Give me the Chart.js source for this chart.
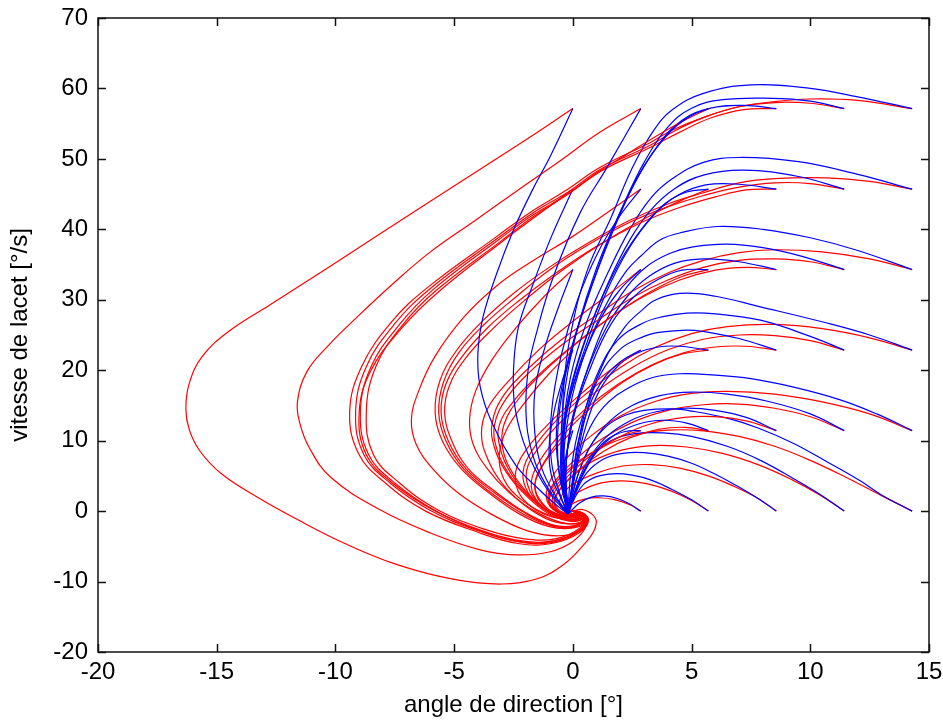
<!DOCTYPE html>
<html>
<head>
<meta charset="utf-8">
<script src="https://cdn.jsdelivr.net/npm/chart.js@4"></script>
<style>
  html, body { margin: 0; background: #fff; }
  canvas { display: block; }
</style>
</head>
<body>
<canvas id="portrait" width="943" height="722"></canvas>
<script>
// axis ticks
const xTicks = [-20, -15, -10, -5, 0, 5, 10, 15];
const yTicks = [-20, -10, 0, 10, 20, 30, 40, 50, 60, 70];

// trajectories, [angle, yaw rate] pairs; name = start angle _ start yaw rate
// blue model
const b0_57 = [[0,57.14],[-0.96,50.3],[-1.7,45.6],[-2.5,39.9],[-3.2,33.8],[-3.78,27.6],[-4.0,22.4],[-3.9,17.6],[-3.4,12.5],[-2.4,6.5],[-1.4,3.0],[-0.6,0.6],[-0.2,-0.4]];
const b3_57 = [[2.86,57.14],[1.44,48.8],[0.3,42.3],[-0.83,33.2],[-1.5,25.7],[-1.9,19.6],[-1.95,12.5],[-1.6,7],[-1.0,3],[-0.4,0.5],[-0.2,-0.4]];
const b6_57 = [[5.71,57.14],[4.9,56.0],[4.0,53.5],[3.0,49],[2.0,42.5],[1.0,34],[0.1,25],[-0.5,17],[-0.7,10],[-0.5,4],[-0.2,-0.4]];
const b9_57 = [[8.57,57.14],[7.2,57.6],[5.8,57.2],[4.6,55.5],[3.6,52],[2.6,46.5],[1.6,39],[0.6,30],[-0.2,21],[-0.6,13],[-0.6,6],[-0.2,-0.4]];
const b11_57 = [[11.43,57.14],[10,58.2],[8.4,58.6],[6.3,58.4],[5.0,57.2],[4.0,54.5],[3.0,49.5],[2.0,42.5],[1.0,34.5],[0.2,26],[-0.3,18],[-0.5,10],[-0.4,4],[-0.2,-0.4]];
const b14_57 = [[14.29,57.14],[12,58.8],[10,60.0],[7.5,60.5],[5.5,59.3],[4.2,57],[3.4,54],[2.5,48.7],[1.6,41.6],[0.6,34.1],[-0.1,25],[-0.4,17],[-0.4,10],[-0.3,4],[-0.2,-0.4]];

const b0_46 = [[0,45.71],[-0.9,39],[-1.7,32],[-2.3,26],[-2.5,20],[-2.45,15],[-2.1,10],[-1.6,6],[-0.9,2.2],[-0.2,-0.4]];
const b3_46 = [[2.86,45.71],[2.0,42],[1.1,37],[0.2,30],[-0.5,22],[-0.9,14],[-0.9,7],[-0.5,2],[-0.2,-0.4]];
const b6_46 = [[5.71,45.71],[4.8,45.3],[3.9,43.7],[3.0,40.5],[2.0,35.5],[1.0,28.5],[0.1,20],[-0.4,12],[-0.5,5],[-0.2,-0.4]];
const b9_46 = [[8.57,45.71],[7,46.4],[5.6,46.3],[4.4,44.8],[3.4,42],[2.4,37.5],[1.4,31],[0.5,23],[-0.2,15],[-0.4,8],[-0.3,3],[-0.2,-0.4]];
const b11_46 = [[11.43,45.71],[9.5,47.5],[7.2,48.4],[5.5,47.7],[4.3,45.8],[3.3,42.8],[2.4,38.5],[1.5,32.5],[0.6,25],[-0.1,17],[-0.4,10],[-0.3,4],[-0.2,-0.4]];
const b14_46 = [[14.29,45.71],[12,47.8],[9.5,49.6],[7,50.2],[5.5,49.5],[4.2,47.2],[3.3,44.5],[2.4,40],[1.5,34],[0.6,27],[-0.1,19],[-0.4,11],[-0.4,5],[-0.2,-0.4]];

const b0_34 = [[0,34.29],[-0.6,29],[-1.2,23],[-1.6,17],[-1.6,11],[-1.3,6],[-0.7,2],[-0.2,-0.4]];
const b3_34 = [[2.86,34.29],[2.0,31.5],[1.2,27.5],[0.4,21.5],[-0.2,15],[-0.5,8],[-0.4,3],[-0.2,-0.4]];
const b6_34 = [[5.71,34.29],[4.6,34.2],[3.6,32.9],[2.6,30.5],[1.6,26.5],[0.7,20],[0,13],[-0.3,6],[-0.2,-0.4]];
const b9_34 = [[8.57,34.29],[7,35.4],[5.5,35.8],[4.3,35.2],[3.2,33.3],[2.3,30.5],[1.4,26],[0.5,19],[-0.1,12],[-0.3,5],[-0.2,-0.4]];
const b11_34 = [[11.43,34.29],[9.5,36.3],[8,37.4],[6.5,37.9],[5.06,37.5],[4.1,36.6],[3.1,34.7],[2.27,31.8],[1.4,27],[0.6,20],[0,13],[-0.3,6],[-0.2,-0.4]];
const b14_34 = [[14.29,34.29],[12,37],[10,38.8],[8,40],[6.1,40.4],[4.65,39.6],[3.67,38.5],[2.83,36.1],[2.28,34.2],[1.57,30.4],[0.8,25],[0.1,18],[-0.3,11],[-0.4,5],[-0.2,-0.4]];

const b0_23 = [[0,22.86],[-0.4,19],[-0.8,14],[-1.0,9],[-0.9,5],[-0.5,1.8],[-0.2,-0.4]];
const b3_23 = [[2.86,22.86],[2.0,21.2],[1.3,18.8],[0.7,15],[0.2,9.5],[0,4.5],[-0.2,-0.4]];
const b6_23 = [[5.71,22.86],[4.5,23.4],[3.6,23.3],[2.7,22.4],[1.9,20.6],[1.1,17],[0.5,11.5],[0.1,5.5],[-0.2,-0.4]];
const b9_23 = [[8.57,22.86],[7,24.5],[5.5,25.5],[4.8,25.7],[3.7,25.4],[3,24.8],[2,23],[1.1,19],[0.5,13],[0.1,6],[-0.2,-0.4]];
const b11_23 = [[11.43,22.86],[10,24.8],[7.9,27.1],[6,28],[4.8,28.1],[3.8,27.6],[2.96,26.7],[1.9,24.3],[1.1,20],[0.5,14],[0.1,7],[-0.2,-0.4]];
const b14_23 = [[14.29,22.86],[12.5,25],[10.7,26.7],[7.9,29],[6,30.5],[4.5,30.9],[3.5,30],[2.9,28.5],[2.2,26.2],[1.5,22.5],[0.8,17],[0.2,11],[-0.1,5],[-0.2,-0.4]];

const b0_11 = [[0,11.43],[-0.25,8.5],[-0.4,5.5],[-0.4,3],[-0.3,1],[-0.2,-0.4]];
const b3_11 = [[2.86,11.43],[2.2,11.3],[1.5,10.3],[0.9,8.2],[0.4,5.2],[0.05,2.2],[-0.2,-0.4]];
const b6_11 = [[5.71,11.43],[4.8,12.5],[3.8,12.9],[2.8,12.4],[1.8,10.9],[1,8.4],[0.4,5],[0,2],[-0.2,-0.4]];
const b9_11 = [[8.57,11.43],[7.3,13.3],[6,14.3],[4.7,14.6],[3.5,14.1],[2.4,12.8],[1.4,10.5],[0.6,7],[0.1,3],[-0.2,-0.4]];
const b11_11 = [[11.43,11.43],[10,13.8],[8.2,15.6],[6.5,16.6],[5,16.9],[3.67,16.4],[2.5,15],[1.5,12.6],[0.7,9],[0.15,4.5],[-0.2,-0.4]];
const b14_11 = [[14.29,11.43],[12.8,13.8],[11.26,15.8],[9.3,17.6],[7.5,18.8],[6,19.3],[4.5,19.5],[3.4,19],[2.3,17.4],[1.3,14.8],[0.6,11],[0.15,6],[-0.2,-0.4]];

const b3_0 = [[2.86,0],[2.4,1.0],[1.9,1.75],[1.3,2.15],[0.75,1.95],[0.3,1.2],[0,0.3],[-0.2,-0.4]];
const b6_0 = [[5.71,0],[5,1.6],[4.1,3.2],[3.3,4.4],[2.5,5.1],[1.7,5.3],[1,4.9],[0.45,3.8],[0.1,2],[-0.2,-0.4]];
const b9_0 = [[8.57,0],[7.8,1.8],[6.9,3.6],[5.9,5.4],[5,6.8],[4,7.8],[3,8.3],[2.1,8.2],[1.3,7.4],[0.6,5.5],[0.15,2.8],[-0.2,-0.4]];
const b11_0 = [[11.43,0],[10.4,2.4],[9.3,4.6],[7.9,7.2],[6.5,9.2],[5,10.6],[3.8,11.1],[2.6,11],[1.6,10],[0.9,8],[0.35,4.8],[0,1.5],[-0.2,-0.4]];
const b14_0 = [[14.29,0],[13,2.3],[12.1,4.3],[10.7,7],[9.3,9.6],[7.8,11.8],[6.5,13.2],[5,14.2],[4.2,14.5],[3,14.3],[2.2,13.6],[1.4,12],[0.7,9],[0.2,5],[-0.2,-0.4]];

// red model
const r0_57 = [[0,57.14],[-2.3,52],[-6,44],[-10.2,34.8],[-12.8,29.2],[-14.5,25.5],[-15.6,22],[-16.15,18.2],[-16.3,14.5],[-16.15,11.5],[-15.7,8.5],[-14.8,5.3],[-13.3,2],[-11.6,-1.2],[-9.6,-4.6],[-7.4,-7.6],[-5,-9.7],[-3,-10.35],[-1.5,-9.6],[-0.4,-7.6],[0.4,-5],[0.9,-2.7],[0.95,-1],[0.45,0.2],[0,0]];
const r3_57 = [[2.86,57.14],[1.15,53.8],[-0.5,49.8],[-2.3,45.6],[-4.1,41.3],[-6,36.8],[-7.6,32.2],[-9.1,27.5],[-10.3,23.5],[-11.2,19.8],[-11.6,15.5],[-11.5,12.5],[-11.1,9],[-10.2,4.8],[-8.1,0.15],[-6,-3.1],[-3.9,-5.5],[-2.4,-6.2],[-1,-5.8],[0,-4.3],[0.6,-1.9],[0.5,-0.4],[0,0]];
const r6_57 = [[5.71,57.14],[4.6,55.3],[3.4,53],[2.2,50.5],[1,48],[-0.3,44.8],[-1.7,41.7],[-3,38.4],[-5.8,31.2],[-7.2,26.3],[-8.3,20.5],[-8.7,14],[-8.4,8],[-7.3,4],[-5.7,0.2],[-3.7,-2.6],[-2.1,-3.9],[-0.7,-3.9],[0.3,-2.4],[0.5,-0.8],[0,0]];
const r9_57 = [[8.57,57.14],[7.2,57],[5.8,55.8],[4.5,53.8],[3.3,51.7],[1.2,48.3],[-0.2,45],[-1.7,42],[-3.1,38.6],[-5.9,31.4],[-7.3,26.5],[-8.5,20.5],[-8.95,14],[-8.6,8],[-7.5,4],[-5.8,0.1],[-3.8,-2.8],[-2.2,-4.2],[-0.8,-4.2],[0.3,-2.6],[0.55,-0.9],[0,0]];
const r11_57 = [[11.43,57.14],[10,57.9],[8.5,58],[7,57.4],[5.6,56],[4.3,54],[3.3,52],[1.2,48.6],[-0.2,45.3],[-1.7,42.3],[-3.1,38.9],[-6,31.6],[-7.5,26.6],[-8.7,20.5],[-9.15,14],[-8.8,8],[-7.7,4],[-6,0.1],[-3.9,-2.9],[-2.2,-4.4],[-0.8,-4.4],[0.3,-2.8],[0.6,-1],[0,0]];
const r14_57 = [[14.29,57.14],[12,58.3],[10,58.5],[8.4,58.1],[7,57.4],[5.6,56],[4.2,54.1],[3.25,52.3],[1.15,48.8],[-0.3,45.5],[-1.8,42.4],[-3.2,39],[-6.1,31.8],[-7.6,27],[-8.9,20.5],[-9.4,14],[-9,8],[-7.9,4],[-6.2,0],[-4,-3],[-2.3,-4.6],[-0.9,-4.6],[0.3,-3],[0.65,-1],[0,0]];

const r0_46 = [[0,45.71],[-1.5,42],[-3,38.2],[-5.7,31],[-7.2,26],[-8.5,20],[-9,14],[-8.7,8],[-7.6,4],[-5.9,0.2],[-3.9,-2.8],[-2.3,-4.3],[-0.9,-4.3],[0.3,-2.7],[0.6,-0.9],[0,0]];
const r3_46 = [[2.86,45.71],[1.5,42.5],[0,39],[-1.7,35.5],[-3.2,32],[-4.6,27.5],[-5.8,22],[-6.5,17],[-6.8,13],[-6.6,9.5],[-5.9,6],[-4.8,2.5],[-3.4,-0.5],[-1.9,-2.8],[-0.6,-3.5],[0.4,-2.6],[0.6,-1],[0.2,0],[0,0]];
const r6_46 = [[5.71,45.71],[4.7,44.3],[3.4,42.2],[1.6,38.8],[-0.4,34.3],[-2,30],[-3.4,25.8],[-4.5,21.8],[-5.2,17.8],[-5.4,14],[-5.1,10],[-4.4,6],[-3.2,2.6],[-2,-0.2],[-0.9,-1.9],[0,-2.1],[0.5,-1.1],[0.3,-0.2],[0,0]];
const r9_46 = [[8.57,45.71],[7.3,45.6],[6,44.6],[4.5,43.1],[2.9,41],[1,37.6],[-0.8,33.6],[-2.3,29.8],[-3.6,26],[-4.65,22],[-5.35,18],[-5.55,14],[-5.25,10],[-4.5,6],[-3.3,2.6],[-2,-0.3],[-0.9,-2],[0,-2.2],[0.5,-1.2],[0.3,-0.3],[0,0]];
const r11_46 = [[11.43,45.71],[10,46.5],[8.5,46.6],[7,46],[5.5,44.8],[4,43.2],[2.4,41],[0.6,37.7],[-1,34.2],[-2.4,30.4],[-3.7,26.6],[-4.8,22.5],[-5.45,18.3],[-5.65,14],[-5.35,10],[-4.6,6],[-3.4,2.5],[-2.1,-0.4],[-0.9,-2.1],[0,-2.3],[0.55,-1.3],[0.35,-0.3],[0,0]];
const r14_46 = [[14.29,45.71],[12.5,46.8],[10.7,47.3],[8.5,47.2],[7,46.6],[5.5,45.2],[4,43.6],[2.4,41.3],[0.6,38],[-1,34.6],[-2.5,30.9],[-3.8,27],[-4.9,22.8],[-5.6,18.5],[-5.8,14],[-5.5,10],[-4.7,6],[-3.5,2.5],[-2.2,-0.5],[-1,-2.2],[0,-2.4],[0.6,-1.4],[0.4,-0.3],[0,0]];

const r0_34 = [[0,34.29],[-1.2,30.5],[-2.4,26],[-3.4,21.5],[-4.1,17],[-4.35,13],[-4.2,9.5],[-3.6,6],[-2.7,2.7],[-1.6,0],[-0.5,-1.6],[0.3,-1.7],[0.5,-0.7],[0,0]];
const r3_34 = [[2.86,34.29],[1.6,31],[0.1,27.2],[-1.4,23],[-2.7,18.5],[-3.6,14.5],[-3.85,11],[-3.6,7.5],[-3,4],[-2.1,1],[-1.1,-1.1],[-0.2,-1.8],[0.4,-1.4],[0.4,-0.4],[0,0]];
const r6_34 = [[5.71,34.29],[4.6,33.3],[3.3,31.2],[1.8,28],[0.3,24.2],[-1.1,20.2],[-2.2,16.3],[-2.9,12.3],[-2.95,8.8],[-2.5,5.2],[-1.8,2.2],[-1,-0.1],[-0.2,-1.1],[0.3,-1],[0.3,-0.3],[0,0]];
const r9_34 = [[8.57,34.29],[7.3,34.6],[6,34.2],[4.5,32.8],[3,30.5],[1.5,27.3],[0,23.5],[-1.3,19.8],[-2.4,16],[-3.1,12.2],[-3.05,8.8],[-2.6,5.3],[-1.85,2.2],[-1,-0.1],[-0.2,-1.2],[0.35,-1.05],[0.3,-0.3],[0,0]];
const r11_34 = [[11.43,34.29],[10,35.4],[8.5,35.8],[7,35.6],[5.5,34.6],[4,32.8],[2.5,30.3],[1,27],[-0.5,23.5],[-1.8,19.8],[-2.8,16],[-3.3,12.2],[-3.2,8.8],[-2.7,5.3],[-1.9,2.2],[-1,-0.2],[-0.2,-1.3],[0.4,-1.1],[0.35,-0.3],[0,0]];
const r14_34 = [[14.29,34.29],[12.5,35.8],[10.5,36.8],[8.5,37.1],[7,36.7],[5.5,35.6],[4,33.8],[2.5,31.2],[1,27.8],[-0.5,24.3],[-1.8,20.5],[-2.9,16.5],[-3.4,12.5],[-3.3,9],[-2.8,5.5],[-2,2.3],[-1.1,-0.2],[-0.2,-1.4],[0.4,-1.2],[0.4,-0.3],[0,0]];

const r0_23 = [[0,22.86],[-1,19.5],[-2,15.5],[-2.8,11.5],[-3.1,7.8],[-2.9,4.5],[-2.2,1.7],[-1.2,-0.3],[-0.2,-1.2],[0.4,-0.8],[0.2,-0.1],[0,0]];
const r3_23 = [[2.86,22.86],[1.7,20.3],[0.4,16.8],[-0.9,12.8],[-1.9,9],[-2.4,5.7],[-2.3,2.8],[-1.7,0.5],[-0.8,-0.9],[0.1,-1.1],[0.35,-0.4],[0,0]];
const r6_23 = [[5.71,22.86],[4.6,22.3],[3.4,20.8],[2.1,18.3],[0.8,14.8],[-0.4,10.8],[-1.2,7],[-1.6,3.8],[-1.3,1.2],[-0.7,-0.4],[0.1,-0.7],[0.3,-0.3],[0,0]];
const r9_23 = [[8.57,22.86],[7.3,23.4],[6,23.3],[4.7,22.5],[3.3,20.7],[1.9,18],[0.5,14.4],[-0.7,10.3],[-1.5,6.5],[-1.75,3.5],[-1.4,1],[-0.7,-0.5],[0.1,-0.8],[0.3,-0.3],[0,0]];
const r11_23 = [[11.43,22.86],[10,24.2],[8.5,24.9],[7,25],[5.5,24.4],[4,22.9],[2.5,20.4],[1,17],[-0.4,13],[-1.4,9.2],[-1.95,5.7],[-1.8,2.8],[-1.25,0.6],[-0.5,-0.7],[0.2,-0.8],[0.3,-0.3],[0,0]];
const r14_23 = [[14.29,22.86],[12.5,24.6],[10.5,25.9],[8.5,26.5],[6.5,26.2],[5,25.2],[3.5,23.3],[2,20.4],[0.5,16.5],[-0.8,12.5],[-1.7,8.7],[-2.1,5.5],[-1.9,2.7],[-1.3,0.5],[-0.5,-0.8],[0.2,-0.9],[0.3,-0.3],[0,0]];

const r0_11 = [[0,11.43],[-0.7,9],[-1.3,6.3],[-1.6,3.7],[-1.4,1.4],[-0.8,-0.2],[-0.1,-0.7],[0.3,-0.4],[0,0]];
const r3_11 = [[2.86,11.43],[2,10.6],[1,8.7],[0,6.2],[-0.7,3.6],[-1,1.5],[-0.7,0],[-0.1,-0.5],[0.25,-0.3],[0,0]];
const r6_11 = [[5.71,11.43],[4.7,11.9],[3.6,11.6],[2.4,10.4],[1.3,8.5],[0.3,6],[-0.5,3.3],[-0.8,1.2],[-0.5,-0.2],[0.1,-0.45],[0.2,-0.1],[0,0]];
const r9_11 = [[8.57,11.43],[7.3,12.8],[6,13.4],[4.7,13.3],[3.3,12.4],[2,10.6],[0.8,8],[-0.2,5],[-0.8,2.5],[-0.8,0.5],[-0.3,-0.4],[0.2,-0.4],[0,0]];
const r11_11 = [[11.43,11.43],[10,13.4],[8.5,14.6],[7,15.2],[5.5,15.1],[4,14.3],[2.5,12.6],[1.1,10],[0,7],[-0.8,4],[-1.05,1.7],[-0.7,0],[-0.1,-0.55],[0.3,-0.3],[0,0]];
const r14_11 = [[14.29,11.43],[12.5,13.8],[10.5,15.5],[8.5,16.6],[6.5,17],[5,16.7],[3.5,15.6],[2,13.5],[0.7,10.5],[-0.4,7],[-1,4],[-1.1,1.6],[-0.7,-0.1],[-0.1,-0.6],[0.3,-0.3],[0,0]];

const r3_0 = [[2.86,0],[2.4,0.9],[1.8,1.6],[1.1,1.9],[0.5,1.7],[0,1.1],[-0.2,0.4],[0,0]];
const r6_0 = [[5.71,0],[5,1.5],[4.1,2.9],[3.1,3.9],[2.1,4.3],[1.2,4],[0.4,3],[-0.2,1.7],[-0.35,0.5],[-0.1,-0.1],[0,0]];
const r9_0 = [[8.57,0],[7.8,1.8],[6.8,3.5],[5.7,5],[4.5,6.1],[3.3,6.6],[2.1,6.4],[1,5.4],[0,3.8],[-0.5,2],[-0.5,0.5],[-0.15,-0.2],[0,0]];
const r11_0 = [[11.43,0],[10.4,2.3],[9.2,4.5],[7.8,6.6],[6.3,8.2],[4.8,9.1],[3.4,9.3],[2.1,8.7],[0.9,7.2],[0,5],[-0.6,2.8],[-0.75,1],[-0.4,-0.2],[0.15,-0.3],[0,0]];
const r14_0 = [[14.29,0],[13,2.2],[11.5,4.8],[10,7.2],[8.5,9.2],[7,10.6],[5.5,11.4],[4,11.5],[2.6,10.8],[1.3,9.2],[0.2,7],[-0.6,4.5],[-1,2.2],[-0.8,0.4],[-0.3,-0.4],[0.2,-0.3],[0,0]];

// paired per starting point so each blue sits over its red
const pairs = [
  [b0_57, r0_57], [b3_57, r3_57], [b6_57, r6_57], [b9_57, r9_57], [b11_57, r11_57], [b14_57, r14_57],
  [b0_46, r0_46], [b3_46, r3_46], [b6_46, r6_46], [b9_46, r9_46], [b11_46, r11_46], [b14_46, r14_46],
  [b0_34, r0_34], [b3_34, r3_34], [b6_34, r6_34], [b9_34, r9_34], [b11_34, r11_34], [b14_34, r14_34],
  [b0_23, r0_23], [b3_23, r3_23], [b6_23, r6_23], [b9_23, r9_23], [b11_23, r11_23], [b14_23, r14_23],
  [b0_11, r0_11], [b3_11, r3_11], [b6_11, r6_11], [b9_11, r9_11], [b11_11, r11_11], [b14_11, r14_11],
  [b3_0, r3_0], [b6_0, r6_0], [b9_0, r9_0], [b11_0, r11_0], [b14_0, r14_0],
];

const toPoints = (track) => track.map(([x, y]) => ({ x: x, y: y }));

let datasets = [];
pairs.forEach(([blue, red]) => {
  datasets.push({ data: toPoints(blue), borderColor: "#0000ff", showLine: true });
  datasets.push({ data: toPoints(red), borderColor: "#ff0000", showLine: true });
});

const labelFont = { family: "'Liberation Sans', Arial, sans-serif", size: 24 };

// box around the plot with inward tick marks on all four sides
const boxTicks = {
  id: "boxTicks",
  afterDraw(chart) {
    const { ctx, chartArea: a, scales } = chart;
    const len = 8;
    ctx.save();
    ctx.strokeStyle = "#111";
    ctx.lineWidth = 1.5;
    ctx.strokeRect(a.left, a.top, a.right - a.left, a.bottom - a.top);
    ctx.beginPath();
    xTicks.forEach((v) => {
      const px = Math.round(scales.x.getPixelForValue(v)) + 0.5;
      ctx.moveTo(px, a.bottom); ctx.lineTo(px, a.bottom - len);
      ctx.moveTo(px, a.top); ctx.lineTo(px, a.top + len);
    });
    yTicks.forEach((v) => {
      const py = Math.round(scales.y.getPixelForValue(v)) + 0.5;
      ctx.moveTo(a.left, py); ctx.lineTo(a.left + len, py);
      ctx.moveTo(a.right, py); ctx.lineTo(a.right - len, py);
    });
    ctx.stroke();
    ctx.restore();
  },
};

let portrait = document.getElementById("portrait").getContext("2d");

let portraitChart = new Chart(portrait, {
  type: "scatter",
  data: { datasets: datasets },
  options: {
    responsive: false,
    animation: false,
    layout: { padding: { top: 18, right: 14, left: 0, bottom: 0 } },
    elements: {
      point: { radius: 0, hoverRadius: 0 },
      line: { borderWidth: 1.2, tension: 0.4, fill: false },
    },
    plugins: {
      legend: { display: false },
      tooltip: { enabled: false },
    },
    scales: {
      x: {
        type: "linear",
        min: -20,
        max: 15,
        afterBuildTicks: (scale) => { scale.ticks = xTicks.map((v) => ({ value: v })); },
        afterFit: (scale) => {
          scale.height = 70;
          scale.paddingLeft = 0;
          scale.paddingRight = 0;
        },
        grid: { display: false, drawTicks: false },
        border: { display: false },
        ticks: { color: "#000", font: labelFont, padding: 6, maxRotation: 0 },
        title: { display: true, text: "angle de direction [°]", color: "#000", font: labelFont, padding: { top: 0, bottom: 2 } },
      },
      y: {
        type: "linear",
        min: -20,
        max: 70,
        afterBuildTicks: (scale) => { scale.ticks = yTicks.map((v) => ({ value: v })); },
        afterFit: (scale) => {
          scale.width = 98;
          scale.paddingTop = 0;
          scale.paddingBottom = 0;
        },
        grid: { display: false, drawTicks: false },
        border: { display: false },
        ticks: { color: "#000", font: labelFont, padding: 10 },
        title: { display: true, text: "vitesse de lacet [°/s]", color: "#000", font: labelFont, padding: { top: 6, bottom: 0 } },
      },
    },
  },
  plugins: [boxTicks],
});
</script>
</body>
</html>
